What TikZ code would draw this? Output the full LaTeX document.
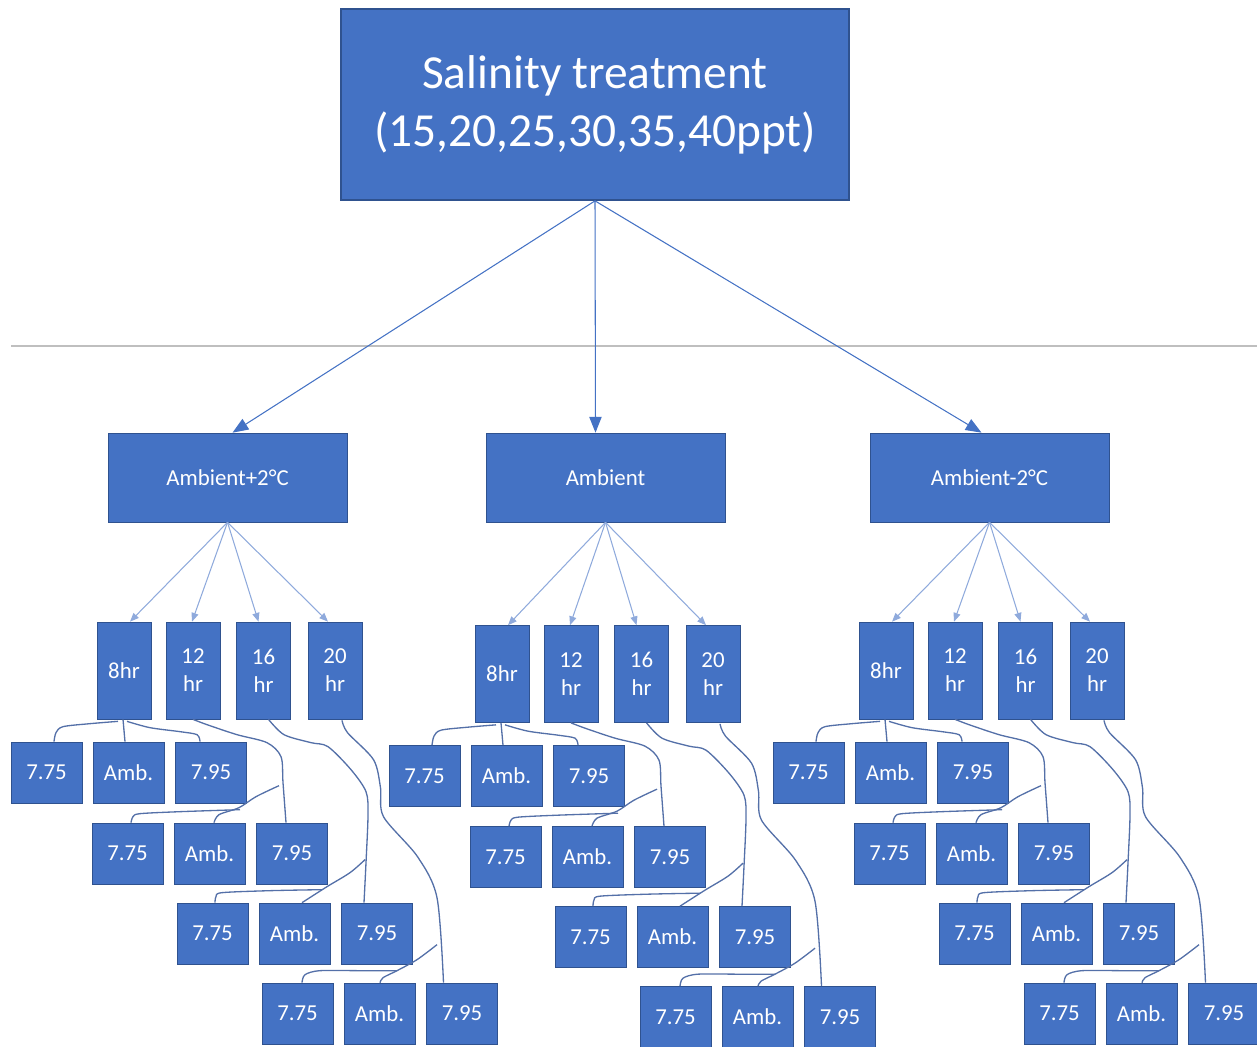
\documentclass[tikz,border=0pt]{standalone}
\usepackage{fontspec}
\setmainfont{Carlito}
\usetikzlibrary{calc,arrows.meta}
\definecolor{boxblue}{RGB}{68,114,196}
\definecolor{edgeblue}{RGB}{47,82,143}
\definecolor{arrowblue}{RGB}{68,114,196}
\definecolor{thinblue}{RGB}{143,170,220}
\definecolor{wireblue}{RGB}{84,112,168}
\definecolor{rulegray}{RGB}{191,191,191}

\begin{document}
\begin{tikzpicture}[
        x=0.02cm, y=-0.02cm,
        salinity/.style={rectangle, draw=edgeblue, line width=1pt, fill=boxblue, text=white, minimum width=10.16cm, minimum height=3.82cm, align=center, font=\fontsize{27}{33}\selectfont},
        temperature/.style={rectangle, draw=edgeblue, line width=0.4pt, fill=boxblue, text=white, minimum width=4.78cm, minimum height=1.78cm, font=\fontsize{13}{16}\selectfont},
        hour/.style={rectangle, draw=edgeblue, line width=0.4pt, fill=boxblue, text=white, minimum width=1.08cm, minimum height=1.94cm, inner sep=0pt, align=center, font=\fontsize{13}{16}\selectfont},
        phbox/.style={rectangle, draw=edgeblue, line width=0.4pt, fill=boxblue, text=white, minimum width=1.42cm, minimum height=1.22cm, inner sep=0pt, font=\fontsize{13}{16}\selectfont},
        mainflow/.style={-{Triangle[length=9pt, width=7pt]}, line width=0.6pt, color=arrowblue},
        subflow/.style={-{Triangle[length=5pt, width=4pt]}, line width=0.6pt, color=thinblue},
        wire/.style={line width=0.75pt, color=wireblue}
    ]
    \useasboundingbox (0,0) rectangle (1257,1046);

    % Salinity treatment at the top
    \node[salinity] (salinity) at (595,104.5) {Salinity treatment\\(15,20,25,30,35,40ppt)};

    % Separator line
    \draw[rulegray, line width=0.8pt] (11,346) -- (1257,346);

    \foreach \g/\gx/\gy/\tlab/\tsh in {1/124/0/Ambient+2°C/5, 2/502/3.5/Ambient/-10, 3/886/0/Ambient-2°C/-8} {
        % Temperature level
        \node[temperature] (temp\g) at (\gx+103.5, 477.5) {\tlab};
        \draw[mainflow] (salinity.south) -- ($(temp\g.north)+(\tsh,0)$);

        % Photoperiods and their pH levels
        \foreach \h/\hx/\hlab/\hsh/\rx/\ry in {0/0/8hr/6/0/0, 1/69/{12\\hr}/-1/81/81, 2/139.5/{16\\hr}/-5/166/161, 3/211/{20\\hr}/-7/251/241} {
            \node[hour] (hr\g\h) at (\gx+\hx, 670.5+\gy) {\hlab};
            \draw[subflow] (temp\g.south) -- ($(hr\g\h.north)+(\hsh,0)$);
            \foreach \m/\mx/\plab in {0/0/7.75, 1/82/Amb., 2/164.5/7.95}
                \node[phbox] (p\g\h\m) at (\gx-77.5+\rx+\mx, 772.5+\gy+\ry) {\plab};
        }

        % 8hr wires
        \draw[wire] plot[smooth] coordinates {($(hr\g0.south)+(-6,2)$) ($(p\g00.north)+(43.5,-18)$) ($(p\g00.north)+(16.5,-15)$) ($(p\g00.north)+(9.5,-9)$) ($(p\g00.north)+(7.5,0)$)};
        \draw[wire] ($(hr\g0.south)+(-1,0)$) -- ($(p\g01.north)+(-3.5,0)$);
        \draw[wire] plot[smooth] coordinates {($(hr\g0.south)+(3,2)$) ($(p\g02.north)+(-61,-14)$) ($(p\g02.north)+(-31,-10)$) ($(p\g02.north)+(-14,-7)$) ($(p\g02.north)+(-11,0)$)};

        % 12 hr wires
        \draw[wire] plot[smooth] coordinates {(hr\g1.south) ($(p\g12.north)+(-85,-98)$) ($(p\g12.north)+(-55,-88)$) ($(p\g12.north)+(-25,-80)$) ($(p\g12.north)+(-11,-66)$) ($(p\g12.north)+(-9,-40)$) ($(p\g12.north)+(-6,0)$)};
        \draw[wire] plot[smooth] coordinates {($(p\g11.north)+(69.5,-37)$) ($(p\g11.north)+(46.5,-26)$) ($(p\g11.north)+(29.5,-15)$) ($(p\g11.north)+(9.5,-8)$) ($(p\g11.north)+(4.5,0)$)};
        \draw[wire] plot[smooth] coordinates {($(p\g10.north)+(112.5,-13)$) ($(p\g10.north)+(52.5,-11)$) ($(p\g10.north)+(12.5,-9)$) ($(p\g10.north)+(5.5,-6)$) ($(p\g10.north)+(3.5,0)$)};

        % 16 hr wires
        \draw[wire] plot[smooth] coordinates {($(hr\g2.south)+(5,0)$) ($(p\g22.north)+(-93,-168)$) ($(p\g22.north)+(-66,-160)$) ($(p\g22.north)+(-49,-156)$) ($(p\g22.north)+(-26,-133)$) ($(p\g22.north)+(-11,-111)$) ($(p\g22.north)+(-9,-88)$) ($(p\g22.north)+(-11,-40)$) ($(p\g22.north)+(-13,0)$)};
        \draw[wire] plot[smooth] coordinates {($(p\g21.north)+(70.5,-43)$) ($(p\g21.north)+(55.5,-30)$) ($(p\g21.north)+(32.5,-16)$) ($(p\g21.north)+(7.5,0)$)};
        \draw[wire] plot[smooth] coordinates {($(p\g20.north)+(109.5,-13)$) ($(p\g20.north)+(57.5,-12)$) ($(p\g20.north)+(9.5,-10)$) ($(p\g20.north)+(3.5,-6)$) ($(p\g20.north)+(2.5,0)$)};

        % 20 hr wires
        \draw[wire] plot[smooth] coordinates {($(hr\g3.south)+(7,1)$) ($(p\g32.north)+(-114.5,-250)$) ($(p\g32.north)+(-88.5,-223)$) ($(p\g32.north)+(-81.5,-195)$) ($(p\g32.north)+(-78.5,-166)$) ($(p\g32.north)+(-44.5,-126)$) ($(p\g32.north)+(-25,-85)$) ($(p\g32.north)+(-18.5,0)$)};
        \draw[wire] plot[smooth] coordinates {($(p\g31.north)+(57.5,-38)$) ($(p\g31.north)+(37.5,-23)$) ($(p\g31.north)+(17.5,-12)$) ($(p\g31.north)+(3.5,-5)$) ($(p\g31.north)+(0.5,0)$)};
        \draw[wire] plot[smooth] coordinates {($(p\g30.north)+(99.5,-12)$) ($(p\g30.north)+(62.5,-12)$) ($(p\g30.north)+(22.5,-12)$) ($(p\g30.north)+(7.5,-8)$) ($(p\g30.north)+(4.5,0)$)};
    }
\end{tikzpicture}
\end{document}
